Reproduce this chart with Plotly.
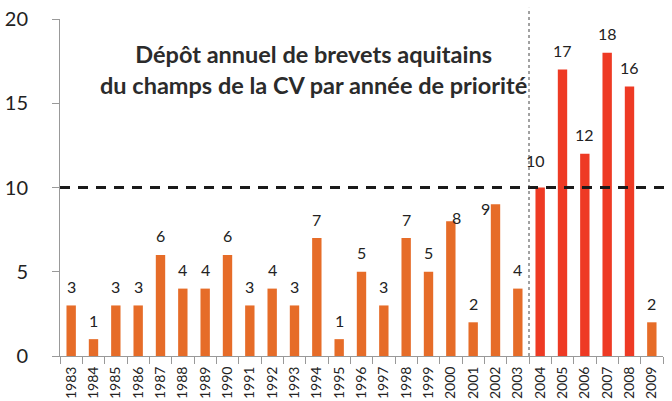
import plotly.graph_objects as go

years = [str(y) for y in range(1983, 2010)]
values = [3, 1, 3, 3, 6, 4, 4, 6, 3, 4, 3, 7, 1, 5, 3, 7, 5, 8, 2, 9, 4, 10, 17, 12, 18, 16, 2]
highlight_years = ["2004", "2005", "2006", "2007", "2008"]
threshold = 10
y_ticks = [0, 5, 10, 15, 20]
title_lines = ["Dépôt annuel de brevets aquitains", "du champs de la CV par année de priorité"]

# label nudges (pixels) for labels that sit beside their bar in the original
label_nudge = {"2000": (6, 4), "2002": (-10, -4), "2004": (-5, 27)}

ORANGE = "#E66C28"
RED = "#EE3A24"
colors = [RED if y in highlight_years else ORANGE for y in years]

fig = go.Figure()
fig.add_trace(go.Bar(
    x=years, y=values, marker=dict(color=colors, line=dict(width=0)),
    width=0.42, hoverinfo="x+y",
))

for i, (yr, v) in enumerate(zip(years, values)):
    dx, dy = label_nudge.get(yr, (0, 19))
    fig.add_annotation(
        x=i, y=v, text=str(v), showarrow=False, xshift=dx, yshift=dy,
        xanchor="center", yanchor="middle",
        font=dict(family="Lato, sans-serif", size=16, color="#222"),
    )

# threshold dashed line
fig.add_shape(type="line", xref="paper", yref="y", x0=0, x1=1.02, y0=threshold, y1=threshold,
              line=dict(color="#1a1a1a", width=3, dash="10px,8px"))
# dotted separator between 2003 and 2004
sep = years.index("2004") - 0.5
fig.add_shape(type="line", xref="x", yref="paper", x0=sep, x1=sep, y0=0, y1=1.033,
              line=dict(color="#444", width=1, dash="dot"))

fig.add_annotation(
    xref="paper", yref="paper", x=0.421, y=0.849, xanchor="center", yanchor="middle",
    showarrow=False,
    text="<b>" + title_lines[0] + "</b><br><b>" + title_lines[1] + "</b>",
    font=dict(family="Lato, sans-serif", size=23.5, color="#2b2b2b"), align="center",
)

fig.update_layout(
    width=672, height=401,
    margin=dict(l=60, r=9, t=19, b=45),
    paper_bgcolor="white", plot_bgcolor="white",
    showlegend=False,
    xaxis=dict(
        type="category", tickangle=-90, showgrid=False, showline=True, automargin=False,
        range=[-0.5, len(years) - 0.5],
        linecolor="#999", linewidth=1, ticks="outside", tickson="boundaries",
        ticklen=7, tickcolor="#999", ticklabelstandoff=4,
        tickfont=dict(family="Lato, sans-serif", size=14, color="#222"),
    ),
    yaxis=dict(
        range=[0, 20], tickvals=y_ticks, showgrid=False, zeroline=False, automargin=False,
        showline=True, linecolor="#999", linewidth=1, ticks="outside", ticklen=7,
        tickcolor="#999", ticklabelstandoff=20,
        tickfont=dict(family="Lato, sans-serif", size=20, color="#222"),
    ),
)

fig.write_html(
    "out.html",
    config={"displayModeBar": False},
    post_script="document.body.style.margin='0';document.body.style.overflow='hidden';",
)
